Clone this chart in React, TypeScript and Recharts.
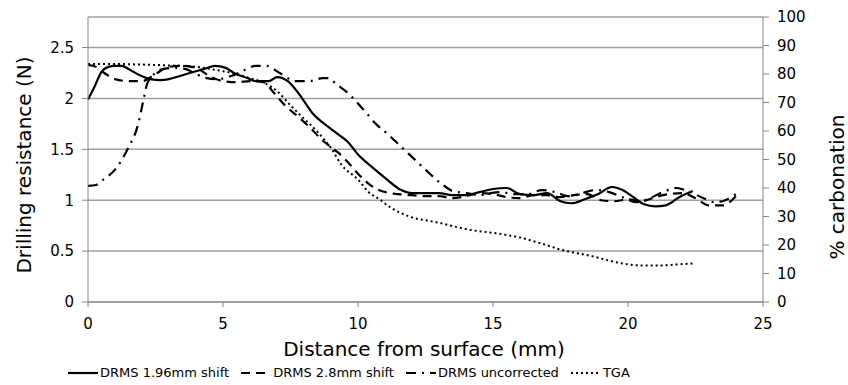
import { LineChart, Line, XAxis, YAxis, CartesianGrid, Legend } from "recharts"

// distance from surface (mm), drilling resistance (N)
const drms196: [number, number][] = [
    [0, 1.99], [0.25, 2.12], [0.5, 2.26], [0.75, 2.31], [1, 2.32], [1.25, 2.32], [1.5, 2.29],
    [1.9, 2.23], [2.3, 2.19], [2.7, 2.18], [3.0, 2.19], [3.4, 2.22], [3.9, 2.26], [4.3, 2.29],
    [4.7, 2.32], [5.1, 2.3], [5.4, 2.25], [5.9, 2.2], [6.2, 2.17], [6.7, 2.17], [7.0, 2.21],
    [7.4, 2.17], [7.8, 2.05], [8.3, 1.86], [8.9, 1.72], [9.3, 1.64], [9.6, 1.58], [10.0, 1.45],
    [10.5, 1.33], [11.0, 1.22], [11.6, 1.1], [12.0, 1.07], [12.5, 1.07], [13.0, 1.07], [13.5, 1.05],
    [14.0, 1.05], [14.5, 1.08], [15.0, 1.11], [15.5, 1.12], [16.0, 1.06], [16.5, 1.05], [17.0, 1.07],
    [17.5, 0.99], [17.9, 0.97], [18.4, 1.01], [18.9, 1.06], [19.4, 1.13], [19.8, 1.1], [20.2, 1.03],
    [20.6, 0.96], [21.0, 0.94], [21.4, 0.95], [21.9, 1.03], [22.4, 1.09],
]

const drms28: [number, number][] = [
    [0, 2.33], [0.3, 2.31], [0.6, 2.25], [1.0, 2.19], [1.5, 2.17], [2.0, 2.17], [2.5, 2.24],
    [3.0, 2.31], [3.5, 2.32], [4.0, 2.3], [4.5, 2.22], [5.0, 2.17], [5.5, 2.16], [6.0, 2.17],
    [6.5, 2.16], [6.9, 2.05], [7.3, 1.93], [7.7, 1.84], [8.2, 1.72], [8.6, 1.61], [9.0, 1.52],
    [9.3, 1.46], [9.6, 1.38], [10.0, 1.26], [10.5, 1.14], [11.0, 1.08], [11.5, 1.06], [12.0, 1.05],
    [12.5, 1.04], [13, 1.04], [13.5, 1.02], [14, 1.04], [14.5, 1.07], [15, 1.06], [15.5, 1.03],
    [16, 1.02], [16.5, 1.05], [17, 1.05], [17.5, 1.03], [18, 1.05], [18.5, 1.06], [19, 1.0],
    [19.5, 0.99], [20, 1.01], [20.5, 0.99], [21, 1.03], [21.5, 1.06], [22, 1.07], [22.5, 1.02],
    [23, 0.95], [23.5, 0.95], [24, 1.04],
]

const drmsUncorrected: [number, number][] = [
    [0, 1.14], [0.3, 1.15], [0.55, 1.2], [1.0, 1.3], [1.5, 1.52], [1.85, 1.74], [2.05, 1.98],
    [2.2, 2.15], [2.5, 2.25], [2.8, 2.29], [3.2, 2.3], [3.6, 2.29], [4.0, 2.24], [4.4, 2.2],
    [4.8, 2.19], [5.3, 2.22], [5.8, 2.28], [6.2, 2.32], [6.6, 2.32], [7.1, 2.25], [7.7, 2.17],
    [8.2, 2.17], [8.7, 2.2], [8.9, 2.2], [9.2, 2.14], [9.6, 2.06], [10.0, 1.95], [10.3, 1.86],
    [10.7, 1.74], [11.1, 1.65], [11.5, 1.55], [11.9, 1.45], [12.3, 1.35], [12.7, 1.25], [13.1, 1.16],
    [13.5, 1.09], [14.0, 1.07], [14.5, 1.05], [14.9, 1.07], [15.3, 1.08], [15.8, 1.06], [16.3, 1.06],
    [16.8, 1.1], [17.3, 1.08], [17.8, 1.04], [18.3, 1.07], [18.8, 1.1], [19.3, 1.08], [19.8, 1.03],
    [20.3, 0.98], [20.8, 1.02], [21.3, 1.08], [21.8, 1.12], [22.3, 1.08], [22.8, 1.02], [23.2, 0.98],
    [23.6, 1.0], [24.0, 1.06],
]

// TGA, % carbonation (right axis)
const tga: [number, number][] = [
    [0, 83.5], [1, 83.5], [2, 83.3], [3, 83], [4, 82.5], [4.5, 81.8], [5, 81], [5.5, 80], [6, 78.5],
    [6.5, 77], [7, 74], [7.5, 69], [8, 64.3], [8.5, 59.7], [9, 54], [9.4, 48], [10, 43], [10.4, 38.5],
    [10.8, 36], [11.2, 33.2], [11.9, 30], [12.9, 28], [14.1, 25.4], [15.4, 23.7], [16, 22.6],
    [16.8, 20.5], [17.5, 18.4], [18.7, 16], [19.4, 14.3], [20, 13.2], [20.6, 12.8], [21.2, 12.8],
    [21.8, 13.2], [22.4, 13.5],
]

const distTicks = [0, 5, 10, 15, 20, 25]
const resistanceTicks = [0, 0.5, 1, 1.5, 2, 2.5]
const carbonationTicks = [0, 10, 20, 30, 40, 50, 60, 70, 80, 90, 100]

const FONT = "'DejaVu Sans', Verdana, sans-serif"
const AXIS = "#868686"

const series = [
    { name: "DRMS 1.96mm shift", data: drms196, axis: "left", dash: undefined, width: 2.2 },
    { name: "DRMS 2.8mm shift", data: drms28, axis: "left", dash: "9 6", width: 2.2 },
    { name: "DRMS uncorrected", data: drmsUncorrected, axis: "left", dash: "10 6 2 6", width: 2.2 },
    { name: "TGA", data: tga, axis: "right", dash: "2 3", width: 2 },
]

const toPoints = (pairs: [number, number][]) => pairs.map(([x, v]) => ({ x, v }))

function LegendBox() {
    return (
        <div style={{ display: "flex", alignItems: "center", whiteSpace: "nowrap", fontFamily: FONT, fontSize: 13, color: "#000" }}>
            {series.map((s) => (
                <div key={s.name} style={{ display: "flex", alignItems: "center", marginRight: 12 }}>
                    <svg width={30} height={10}>
                        <line x1={0} y1={5} x2={30} y2={5} stroke="#000" strokeWidth={s.width} strokeDasharray={s.dash} />
                    </svg>
                    <span style={{ marginLeft: 2 }}>{s.name}</span>
                </div>
            ))}
        </div>
    )
}

const tickStyle = { fontFamily: FONT, fontSize: 15, fill: "#000" }

export default function App() {
    return (
        <div style={{ position: "absolute", left: 0, top: 0, width: 848, height: 385, background: "#fff" }}>
            <LineChart width={848} height={385} margin={{ top: 17, right: 0, bottom: 0, left: 0 }}>
                <CartesianGrid yAxisId="left" vertical={false} stroke="#a0a0a0" strokeWidth={1.5} />
                <XAxis
                    dataKey="x"
                    type="number"
                    domain={[0, 25]}
                    ticks={distTicks}
                    height={83}
                    tickSize={5}
                    tickMargin={11}
                    stroke={AXIS}
                    tick={tickStyle}
                    label={{
                        content: () => (
                            <text x={424} y={349} textAnchor="middle" dominantBaseline="central"
                                style={{ fontFamily: FONT, fontSize: 20, fill: "#000" }}>
                                Distance from surface (mm)
                            </text>
                        ),
                    }}
                />
                <YAxis
                    yAxisId="left"
                    domain={[0, 2.8]}
                    ticks={resistanceTicks}
                    width={88}
                    tickSize={6}
                    tickMargin={8}
                    stroke={AXIS}
                    tick={tickStyle}
                    label={{
                        content: () => (
                            <text transform="translate(24,165) rotate(-90)" textAnchor="middle" dominantBaseline="central"
                                style={{ fontFamily: FONT, fontSize: 20, fill: "#000" }}>
                                Drilling resistance (N)
                            </text>
                        ),
                    }}
                />
                <YAxis
                    yAxisId="right"
                    orientation="right"
                    domain={[0, 100]}
                    ticks={carbonationTicks}
                    width={85}
                    tickSize={6}
                    tickMargin={8}
                    stroke={AXIS}
                    tick={tickStyle}
                    label={{
                        content: () => (
                            <text transform="translate(837,187) rotate(-90)" textAnchor="middle" dominantBaseline="central"
                                style={{ fontFamily: FONT, fontSize: 20, fill: "#000" }}>
                                % carbonation
                            </text>
                        ),
                    }}
                />
                <Legend
                    layout="horizontal"
                    verticalAlign="middle"
                    align="center"
                    wrapperStyle={{ top: 365, left: 68, width: 760 }}
                    content={() => <LegendBox />}
                />
                {series.map((s) => (
                    <Line
                        key={s.name}
                        name={s.name}
                        yAxisId={s.axis}
                        data={toPoints(s.data)}
                        dataKey="v"
                        type="monotone"
                        stroke="#000"
                        strokeWidth={s.width}
                        strokeDasharray={s.dash}
                        dot={false}
                        activeDot={false}
                        isAnimationActive={false}
                    />
                ))}
            </LineChart>
        </div>
    )
}
